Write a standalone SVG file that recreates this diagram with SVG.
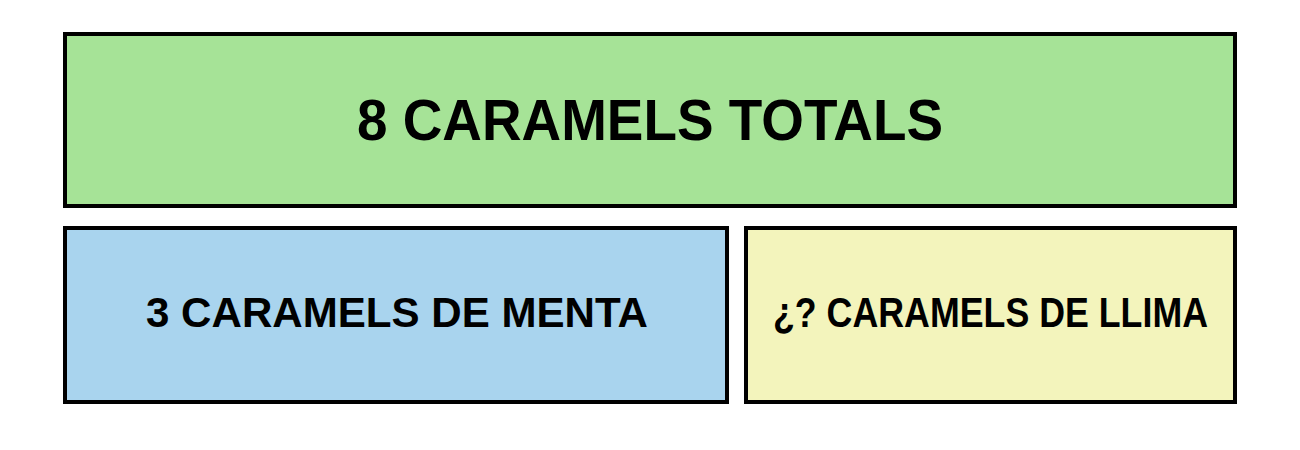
<svg xmlns="http://www.w3.org/2000/svg" width="1300" height="450" viewBox="0 0 1300 450">
<style>
.box{stroke:#000;stroke-width:4}
.lbl{font-family:"Liberation Sans",Arial,sans-serif;font-weight:bold;fill:#000;text-anchor:middle}
</style>
<rect width="1300" height="450" fill="#fff"/>
<g id="total">
<rect class="box" x="65" y="34" width="1170" height="172" fill="#A6E397"/>
<text class="lbl" x="650" y="139.5" font-size="58" textLength="586" lengthAdjust="spacingAndGlyphs">8 CARAMELS TOTALS</text>
</g>
<g id="menta">
<rect class="box" x="65" y="228" width="662" height="174" fill="#A9D4EE"/>
<text class="lbl" x="397" y="327" font-size="43" textLength="502" lengthAdjust="spacingAndGlyphs">3 CARAMELS DE MENTA</text>
</g>
<g id="llima">
<rect class="box" x="746" y="228" width="489" height="174" fill="#F3F4BC"/>
<text class="lbl" x="990.5" y="327" font-size="43" textLength="435" lengthAdjust="spacingAndGlyphs">¿? CARAMELS DE LLIMA</text>
</g>
<g id="connectors"/>
</svg>
